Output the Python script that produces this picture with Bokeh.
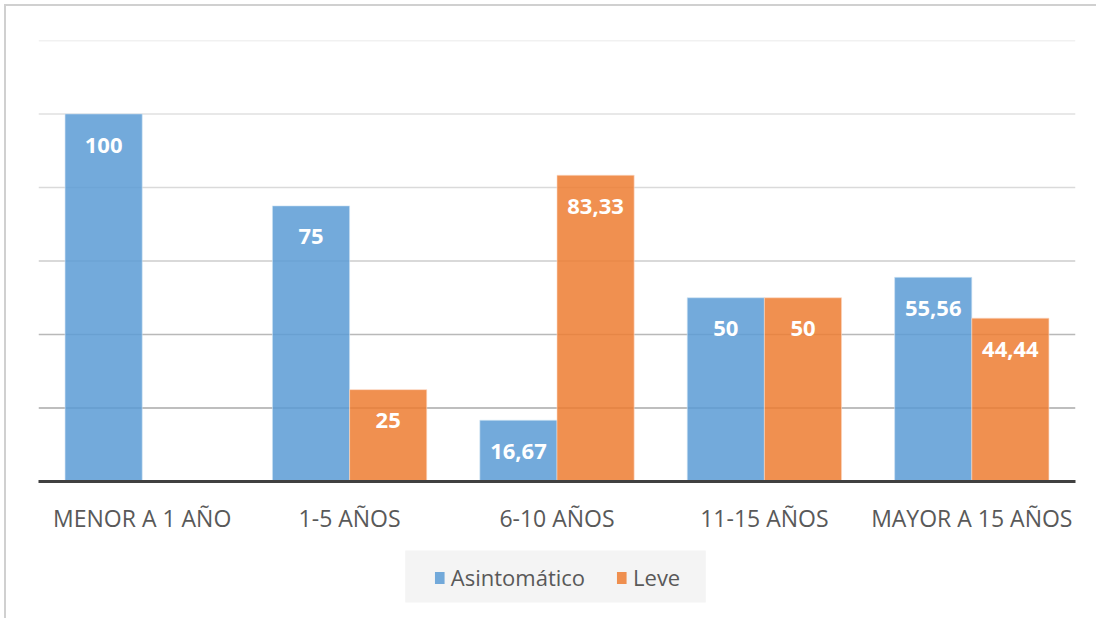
from bokeh.plotting import figure
from bokeh.layouts import column
from bokeh.models import (ColumnDataSource, FactorRange, Range1d, Legend, LegendItem, Span,
                          LabelSet, BoxAnnotation)
from bokeh.transform import dodge
from bokeh.core.properties import value
from bokeh.embed import file_html
from bokeh.resources import INLINE

categories = ["MENOR A 1 AÑO", "1-5 AÑOS", "6-10 AÑOS", "11-15 AÑOS", "MAYOR A 15 AÑOS"]
asintomatico = [100, 75, 16.67, 50, 55.56]
leve = [0, 25, 83.33, 50, 44.44]
asin_labels = ["100", "75", "16,67", "50", "55,56"]
leve_labels = ["", "25", "83,33", "50", "44,44"]
series_names = ["Asintomático", "Leve"]
grid_values = [20, 40, 60, 80, 100, 120]
grid_colors = ["#a9a9a9", "#b9b9b9", "#cdcdcd", "#dadada", "#e0e0e0", "#e3e3e3"]

BLUE = "#5B9BD5"
ORANGE = "#ED7D31"
FONT = "Open Sans"

src = ColumnDataSource(dict(cat=categories, a=asintomatico, l=leve,
                            al=asin_labels, ll=leve_labels))

p = figure(x_range=FactorRange(*categories, range_padding=0), y_range=Range1d(0, 120),
           width=1090, height=530, output_backend="svg", toolbar_location=None,
           min_border_left=32, min_border_right=21, min_border_top=34, min_border_bottom=55)
p.outline_line_color = None
p.background_fill_color = "white"
p.border_fill_color = "white"
p.xgrid.grid_line_color = None
p.ygrid.grid_line_color = None

for v, c in zip(grid_values, grid_colors):
    p.add_layout(Span(location=v, dimension="width", line_color=c, line_width=1.5, level="underlay"))

W = 0.372
ra = p.vbar(x=dodge("cat", -0.186, range=p.x_range), top="a", width=W, source=src,
            fill_color=BLUE, fill_alpha=0.85, line_color="#cfe2f3", line_width=1, line_alpha=0.6)
rl = p.vbar(x=dodge("cat", 0.186, range=p.x_range), top="l", width=W, source=src,
            fill_color=ORANGE, fill_alpha=0.85, line_color="#fbd9c4", line_width=1, line_alpha=0.6)

for col, off in (("al", -0.186), ("ll", 0.186)):
    p.add_layout(LabelSet(x=dodge("cat", off, range=p.x_range), y="a" if col == "al" else "l",
                          text=col, source=src, text_align="center", text_baseline="middle",
                          y_offset=-31, text_color="white", text_font=value(FONT),
                          text_font_style="bold", text_font_size="22px"))

p.yaxis.visible = False
xa = p.xaxis[0]
xa.axis_line_color = "#404040"
xa.axis_line_width = 3
xa.major_tick_line_color = None
xa.minor_tick_line_color = None
xa.major_tick_out = 0
xa.major_tick_in = 0
xa.major_label_standoff = 20
xa.major_label_text_color = "#595959"
xa.major_label_text_font = FONT
xa.major_label_text_font_size = "23px"

# legend-only figure below the chart (its proxy glyphs sit outside the visible range)
lg = figure(width=1090, height=82, output_backend="svg", toolbar_location=None,
            x_range=Range1d(0, 1), y_range=Range1d(0, 1),
            min_border_left=8, min_border_right=0, min_border_top=0, min_border_bottom=0)
lg.axis.visible = False
lg.grid.visible = False
lg.outline_line_color = None
lg.border_fill_color = "white"
lg.background_fill_color = "white"
lg.add_layout(BoxAnnotation(left=0.3536, right=0.6435, bottom=0.195, top=0.829,
                            fill_color="#f4f4f4", fill_alpha=1, line_color=None, level="underlay"))
la = lg.vbar(x=[-10], top=[-10], bottom=[-11], width=0.1, fill_color=BLUE, fill_alpha=0.85, line_color=None)
ll = lg.vbar(x=[-10], top=[-10], bottom=[-11], width=0.1, fill_color=ORANGE, fill_alpha=0.85, line_color=None)
legend = Legend(items=[LegendItem(label=series_names[0], renderers=[la]),
                       LegendItem(label=series_names[1], renderers=[ll])],
                orientation="horizontal", location="center",
                background_fill_alpha=0, border_line_color=None, label_text_font=FONT,
                label_text_font_size="22px", label_text_color="#595959",
                glyph_width=12, glyph_height=15, spacing=30, padding=0,
                margin=0, label_standoff=6)
lg.add_layout(legend, "center")

layout = column(p, lg, spacing=0)
layout.styles = {"border-top": "2px solid #d0d0d0", "border-left": "2px solid #d0d0d0",
                 "margin-left": "4px", "margin-top": "4px"}

open("out.html", "w").write(file_html(layout, INLINE))
